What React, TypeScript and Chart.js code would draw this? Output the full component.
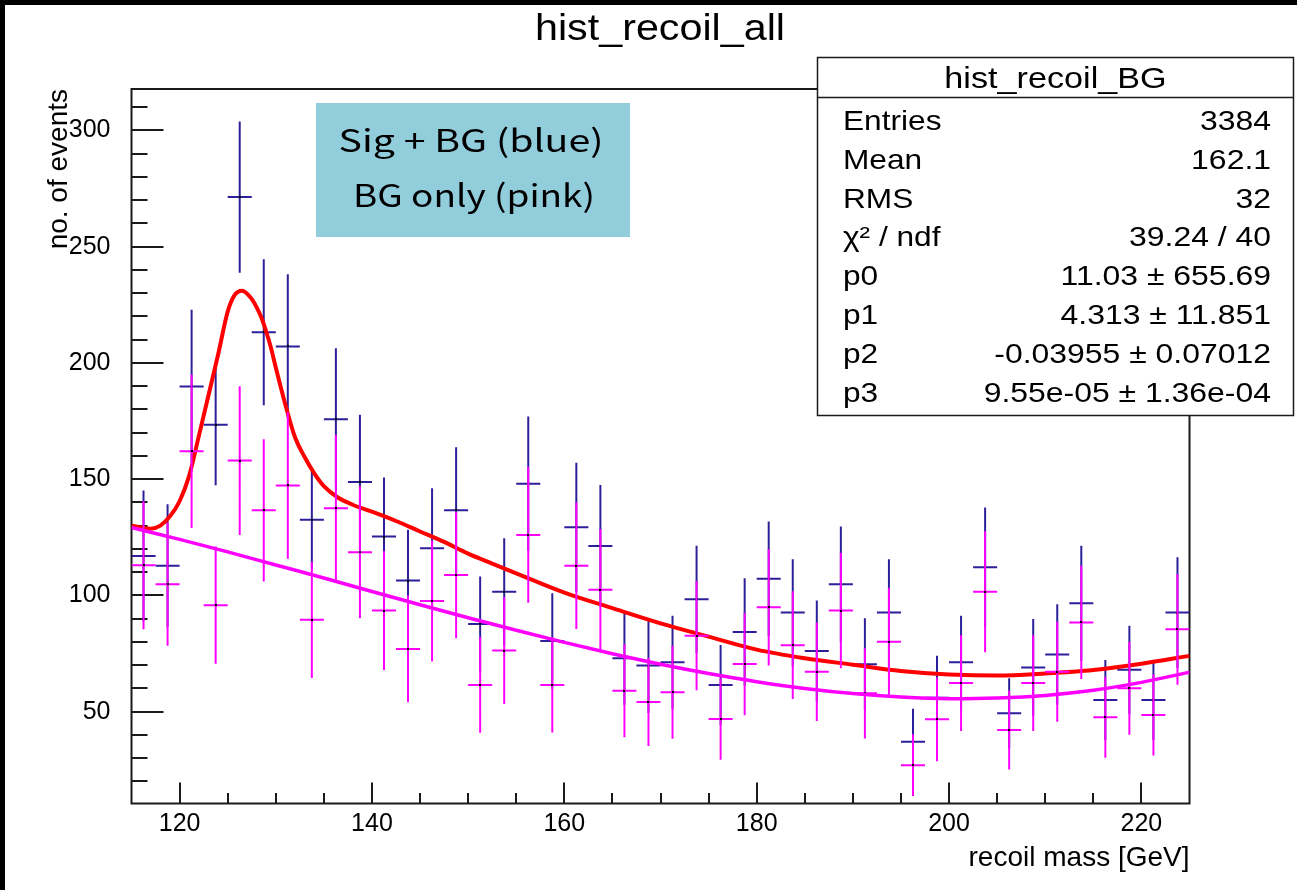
import React, { useEffect, useRef } from 'react';
import { Chart, registerables } from 'chart.js';

Chart.register(...registerables);

// ---------------- data ----------------
const binCenters = [
  116.25, 118.75, 121.25, 123.75, 126.25, 128.75, 131.25, 133.75, 136.25, 138.75,
  141.25, 143.75, 146.25, 148.75, 151.25, 153.75, 156.25, 158.75, 161.25, 163.75,
  166.25, 168.75, 171.25, 173.75, 176.25, 178.75, 181.25, 183.75, 186.25, 188.75,
  191.25, 193.75, 196.25, 198.75, 201.25, 203.75, 206.25, 208.75, 211.25, 213.75,
  216.25, 218.75, 221.25, 223.75,
];

// Sig + BG histogram (blue)
const sigBgCounts = [
  117.0, 112.8, 189.9, 173.4, 271.3, 213.2, 207.1, 132.5, 175.8, 148.8,
  125.3, 106.4, 120.3, 136.6, 87.7, 101.6, 148.0, 80.4, 129.3, 121.3,
  73.0, 69.8, 71.2, 98.3, 61.5, 84.3, 107.2, 92.6, 76.1, 104.8,
  70.4, 92.6, 37.1, 56.0, 71.2, 112.1, 49.3, 69.0, 74.6, 96.6,
  55.0, 68.0, 55.0, 92.6,
];
const sigBgErrors = [
  28.1, 26.4, 33.0, 26.0, 32.5, 31.4, 31.0, 20.8, 30.5, 28.9,
  25.4, 21.8, 25.8, 27.1, 20.4, 23.0, 28.9, 20.5, 27.8, 26.2,
  20.0, 20.4, 20.0, 23.1, 17.2, 23.1, 24.6, 23.0, 21.7, 24.8,
  19.8, 23.0, 14.1, 18.0, 20.0, 25.7, 15.1, 20.8, 21.6, 24.8,
  17.2, 19.0, 17.2, 23.8,
];

// BG only histogram (pink)
const bgCounts = [
  113.0, 104.8, 162.0, 95.8, 158.0, 136.6, 147.3, 89.5, 137.5, 118.6,
  93.5, 77.0, 97.6, 108.8, 61.5, 76.3, 126.0, 61.5, 112.8, 102.4,
  59.0, 54.2, 58.3, 82.7, 46.8, 70.5, 94.9, 78.6, 67.2, 93.5,
  57.9, 80.1, 27.0, 46.7, 62.3, 101.6, 42.1, 62.3, 67.2, 88.4,
  47.6, 60.1, 48.6, 85.4,
];
const bgErrors = [
  27.6, 26.5, 33.0, 25.2, 32.0, 30.6, 31.5, 25.0, 31.5, 28.4,
  25.6, 23.0, 26.0, 27.2, 20.6, 23.0, 29.2, 20.5, 27.3, 26.2,
  20.0, 19.0, 20.0, 23.5, 17.5, 22.0, 25.1, 23.2, 21.2, 24.8,
  19.4, 23.2, 13.3, 18.0, 20.6, 26.0, 17.0, 20.6, 21.5, 24.4,
  17.4, 20.0, 17.5, 23.8,
];

// Sig + BG fit curve (red)
const sigBgFitX = [
  115, 116, 117, 118, 119, 120, 121, 122, 123, 124, 125, 125.7, 126.5, 127.4, 128, 128.5,
  129, 129.5, 130, 131, 132, 133, 134, 135, 136.5, 138, 140, 142.5, 145, 147.5, 150,
  152.5, 155, 157.5, 160, 165, 170, 175, 180, 185, 190, 195, 200, 205, 210, 215, 220, 225,
];
const sigBgFitY = [
  130, 129.2, 128.7, 130, 134, 140.5, 151.5, 168.5, 186, 203.5, 222, 229, 231, 228, 224, 219.5,
  213.5, 206.5, 198, 182, 168, 159.5, 152.5, 147, 142, 139, 136, 132, 127.5, 123, 118,
  113.7, 109.5, 105.3, 101.2, 94.5, 88, 82.3, 76.7, 73, 70.2, 67.5, 66, 65.5, 66.4, 67.9, 70.6, 74,
];

// BG fit curve (magenta)
const bgFitX = [115, 120, 125, 130, 135, 140, 145, 150, 155, 160, 165, 170, 175, 180, 185, 190, 195, 200, 205, 210, 215, 220, 225];
const bgFitY = [129.2, 124.1, 118.7, 113.1, 107.5, 101.7, 96.0, 90.4, 85.0, 79.8, 74.9, 70.4, 66.4, 62.9, 60.0, 57.8, 56.3, 55.6, 55.9, 57.0, 59.2, 62.6, 67.0];

const xTickLabels = [120, 140, 160, 180, 200, 220];
const yTickLabels = [50, 100, 150, 200, 250, 300];

const chartTitle = 'hist_recoil_all';
const xAxisTitle = 'recoil mass [GeV]';
const yAxisTitle = 'no. of events';

const statsTitle = 'hist_recoil_BG';
const statsLabels = ['Entries', 'Mean', 'RMS', 'χ² / ndf', 'p0', 'p1', 'p2', 'p3'];
const statsValues = [
  '3384', '162.1', '32', '39.24 / 40',
  '11.03 ± 655.69', '4.313 ± 11.851', '-0.03955 ± 0.07012', '9.55e-05 ± 1.36e-04',
];

const legendLines = ['Sig + BG (blue)', 'BG only (pink)'];

// ---------------- layout / style ----------------
const W = 1297;
const H = 890;
const BIN_WIDTH = 2.5;
const X_MIN = 115;
const X_MAX = 225;
const Y_MIN = 10.5;
const Y_MAX = 317.8;
const X_MINOR_STEP = 5;
const Y_MINOR_STEP = 10;

const FONT = "'Liberation Sans', Arial, Helvetica, sans-serif";
const CJK_FONT = "'Noto Sans CJK JP', 'Noto Sans', sans-serif";

const COLORS = {
  sigBg: '#2c1f9a',
  sigBgFit: '#ff0000',
  bg: '#ff00ff',
  bgFit: '#ff00ff',
  axis: '#1a1a1a',
  legendFill: '#92cddc',
};

function fitText(
  ctx: CanvasRenderingContext2D,
  text: string,
  x: number,
  y: number,
  font: string,
  sx: number,
  align: 'left' | 'right' | 'center',
  targetWidth?: number,
) {
  ctx.save();
  ctx.font = font;
  ctx.textBaseline = 'alphabetic';
  ctx.textAlign = 'left';
  const raw = ctx.measureText(text).width;
  const scale = targetWidth ? targetWidth / raw : sx;
  const w = raw * scale;
  let x0 = x;
  if (align === 'right') x0 = x - w;
  else if (align === 'center') x0 = x - w / 2;
  ctx.translate(x0, y);
  ctx.scale(scale, 1);
  ctx.fillStyle = '#000';
  ctx.fillText(text, 0, 0);
  ctx.restore();
}

const rootStylePlugin = {
  id: 'rootStyle',
  beforeDraw(chart: any) {
    const { ctx } = chart;
    ctx.save();
    ctx.fillStyle = '#000';
    ctx.fillRect(0, 0, W, H);
    ctx.fillStyle = '#fff';
    ctx.fillRect(5, 5, W - 5, H - 5);
    ctx.restore();
  },
  beforeDatasetsDraw(chart: any) {
    const { ctx, chartArea } = chart;
    const { left, right, top, bottom } = chartArea;
    const xs = chart.scales.x;
    const ys = chart.scales.y;
    ctx.save();
    ctx.strokeStyle = COLORS.axis;
    ctx.lineWidth = 2;
    ctx.beginPath();
    // y ticks (inside the frame)
    for (let v = Math.ceil(Y_MIN / Y_MINOR_STEP) * Y_MINOR_STEP; v < Y_MAX; v += Y_MINOR_STEP) {
      const major = yTickLabels.includes(v);
      const py = Math.round(ys.getPixelForValue(v));
      ctx.moveTo(left, py);
      ctx.lineTo(left + (major ? 32 : 16), py);
    }
    // x ticks
    for (let v = Math.ceil(X_MIN / X_MINOR_STEP) * X_MINOR_STEP; v < X_MAX; v += X_MINOR_STEP) {
      if (v <= X_MIN) continue;
      const major = xTickLabels.includes(v);
      const px = Math.round(xs.getPixelForValue(v));
      ctx.moveTo(px, bottom);
      ctx.lineTo(px, bottom - (major ? 21 : 10.5));
    }
    ctx.stroke();
    ctx.strokeRect(left, top, right - left, bottom - top);
    ctx.restore();
  },
  afterDatasetDraw(chart: any, args: any) {
    const ds = chart.data.datasets[args.index];
    if (!ds.errorBars) return;
    const { ctx, chartArea } = chart;
    const xs = chart.scales.x;
    const ys = chart.scales.y;
    ctx.save();
    ctx.beginPath();
    ctx.rect(chartArea.left, chartArea.top, chartArea.right - chartArea.left, chartArea.bottom - chartArea.top);
    ctx.clip();
    ctx.strokeStyle = ds.barColor;
    ctx.lineWidth = 2;
    ctx.beginPath();
    ds.data.forEach((p: any, i: number) => {
      const e = ds.errorBars[i];
      const px = xs.getPixelForValue(p.x);
      const x0 = xs.getPixelForValue(p.x - BIN_WIDTH / 2);
      const x1 = xs.getPixelForValue(p.x + BIN_WIDTH / 2);
      const py = ys.getPixelForValue(p.y);
      const pTop = ys.getPixelForValue(p.y + e);
      const pBot = ys.getPixelForValue(p.y - e);
      ctx.moveTo(x0, py);
      ctx.lineTo(x1, py);
      ctx.moveTo(px, pTop);
      ctx.lineTo(px, pBot);
    });
    ctx.stroke();
    ctx.fillStyle = '#000';
    args.meta.data.forEach((el: any) => {
      ctx.fillRect(Math.round(el.x) - 1, Math.round(el.y) - 1, 2, 2);
    });
    ctx.restore();
  },
  afterDraw(chart: any) {
    const { ctx } = chart;
    // main title
    fitText(ctx, chartTitle, 660, 40, `37px ${FONT}`, 1, 'center', 250);

    // light-blue legend note
    ctx.save();
    ctx.fillStyle = COLORS.legendFill;
    ctx.fillRect(316, 103, 314, 134);
    ctx.restore();
    fitText(ctx, legendLines[0], 471, 152, `31px ${CJK_FONT}`, 1, 'center', 265);
    fitText(ctx, legendLines[1], 474, 207, `31px ${CJK_FONT}`, 1, 'center', 242);

    // stats box
    const bx = 817.5, by = 57.5, bw = 476, bh = 358, hdr = 40;
    ctx.save();
    ctx.fillStyle = '#fff';
    ctx.fillRect(bx, by, bw, bh);
    ctx.strokeStyle = COLORS.axis;
    ctx.lineWidth = 1.5;
    ctx.strokeRect(bx, by, bw, bh);
    ctx.beginPath();
    ctx.moveTo(bx, by + hdr);
    ctx.lineTo(bx + bw, by + hdr);
    ctx.stroke();
    ctx.restore();
    fitText(ctx, statsTitle, bx + bw / 2, 88, `30px ${FONT}`, 1.14, 'center');
    statsLabels.forEach((lab, i) => {
      const yb = 130 + i * 38.8;
      fitText(ctx, lab, 843, yb, `28px ${FONT}`, 1.13, 'left');
      fitText(ctx, statsValues[i], 1271, yb, `28px ${FONT}`, 1.14, 'right');
    });
  },
};

export default function App() {
  const canvasRef = useRef<HTMLCanvasElement>(null);

  useEffect(() => {
    const canvas = canvasRef.current;
    if (!canvas) return;

    const histData = (counts: number[]) => binCenters.map((x, i) => ({ x, y: counts[i] }));
    const curveData = (xs: number[], ys: number[]) => xs.map((x, i) => ({ x, y: ys[i] }));

    const chart = new Chart(canvas, {
      type: 'scatter',
      data: {
        datasets: [
          {
            label: 'Sig + BG',
            data: histData(sigBgCounts),
            pointRadius: 0,
            pointHoverRadius: 0,
            showLine: false,
            order: 4,
            errorBars: sigBgErrors,
            barColor: COLORS.sigBg,
          } as any,
          {
            label: 'Sig + BG fit',
            data: curveData(sigBgFitX, sigBgFitY),
            showLine: true,
            borderColor: COLORS.sigBgFit,
            borderWidth: 4,
            pointRadius: 0,
            pointHoverRadius: 0,
            cubicInterpolationMode: 'monotone',
            fill: false,
            order: 3,
          } as any,
          {
            label: 'BG only',
            data: histData(bgCounts),
            pointRadius: 0,
            pointHoverRadius: 0,
            showLine: false,
            order: 2,
            errorBars: bgErrors,
            barColor: COLORS.bg,
          } as any,
          {
            label: 'BG fit',
            data: curveData(bgFitX, bgFitY),
            showLine: true,
            borderColor: COLORS.bgFit,
            borderWidth: 3.5,
            pointRadius: 0,
            pointHoverRadius: 0,
            cubicInterpolationMode: 'monotone',
            fill: false,
            order: 1,
          } as any,
        ],
      },
      options: {
        responsive: false,
        animation: false,
        devicePixelRatio: 1,
        events: [],
        layout: { padding: { left: 0, top: 89, right: 107.5, bottom: 0 } },
        plugins: {
          legend: { display: false },
          tooltip: { enabled: false },
          title: { display: false },
        },
        scales: {
          x: {
            type: 'linear',
            min: X_MIN,
            max: X_MAX,
            afterBuildTicks: (s: any) => {
              s.ticks = xTickLabels.map((v) => ({ value: v }));
            },
            afterFit: (s: any) => {
              s.height = 86.5;
            },
            grid: { display: false, drawTicks: false, tickLength: 0 },
            border: { display: false },
            ticks: {
              autoSkip: false,
              maxRotation: 0,
              padding: 6,
              color: '#000',
              font: { family: FONT, size: 25 },
              callback: (v: any) => String(v),
            },
            title: {
              display: true,
              text: xAxisTitle,
              align: 'end',
              color: '#000',
              font: { family: FONT, size: 28 },
              padding: { top: 0, bottom: 15 },
            },
          },
          y: {
            type: 'linear',
            min: Y_MIN,
            max: Y_MAX,
            afterBuildTicks: (s: any) => {
              s.ticks = yTickLabels.map((v) => ({ value: v }));
            },
            afterFit: (s: any) => {
              s.width = 131.5;
            },
            grid: { display: false, drawTicks: false, tickLength: 0 },
            border: { display: false },
            ticks: {
              autoSkip: false,
              padding: 21,
              color: '#000',
              font: { family: FONT, size: 25 },
              callback: (v: any) => String(v),
            },
            title: {
              display: true,
              text: yAxisTitle,
              align: 'end',
              color: '#000',
              font: { family: FONT, size: 28 },
              padding: { top: 42, bottom: 0 },
            },
          },
        },
      } as any,
      plugins: [rootStylePlugin],
    });

    return () => chart.destroy();
  }, []);

  return (
    <div style={{ position: 'fixed', left: 0, top: 0, width: W, height: H, background: '#fff' }}>
      <canvas ref={canvasRef} width={W} height={H} style={{ display: 'block', width: W, height: H }} />
    </div>
  );
}
